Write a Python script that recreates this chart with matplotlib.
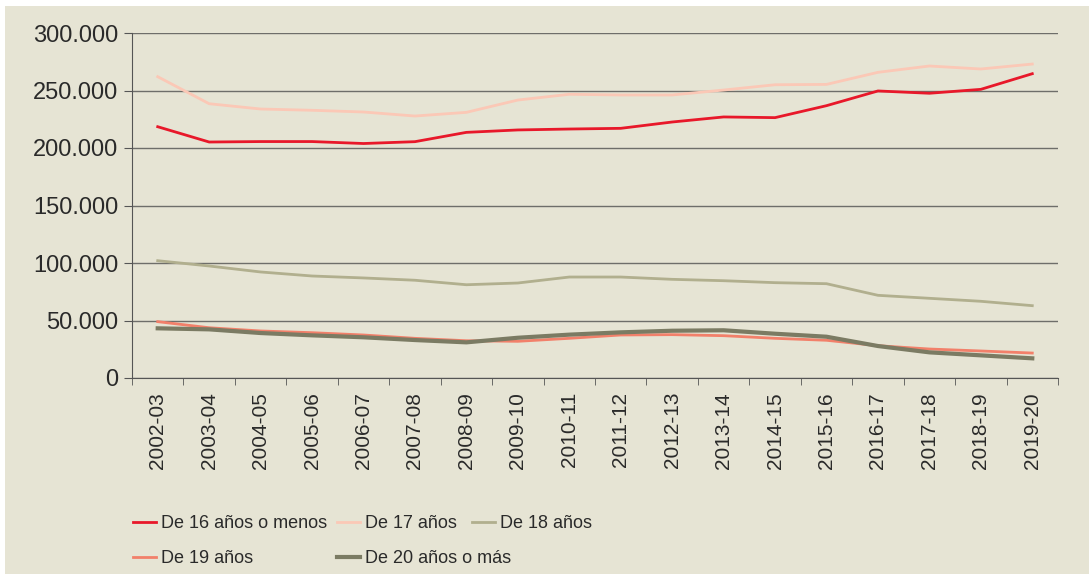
import matplotlib
matplotlib.use('Agg')
import matplotlib.pyplot as plt
from matplotlib.patches import Rectangle
from matplotlib.ticker import FuncFormatter, FixedLocator

# cursos
cursos = ["2002-03", "2003-04", "2004-05", "2005-06", "2006-07", "2007-08",
          "2008-09", "2009-10", "2010-11", "2011-12", "2012-13", "2013-14",
          "2014-15", "2015-16", "2016-17", "2017-18", "2018-19", "2019-20"]

# valores por edad
edad_16 = [218500, 205200, 205600, 205600, 203900, 205500, 213600, 215700, 216500,
           217100, 222600, 227000, 226400, 236800, 249600, 247600, 251000, 264600]
edad_17 = [262000, 238500, 233900, 232800, 231300, 227800, 231000, 241700, 246700,
           246100, 246100, 250400, 255000, 255300, 265800, 271300, 268700, 273000]
edad_18 = [102000, 97400, 92200, 88700, 87000, 85000, 81100, 82600, 87800,
           87800, 85800, 84600, 82900, 82000, 71900, 69300, 66700, 62900]
edad_19 = [49000, 43700, 40900, 39400, 37400, 34500, 32400, 31900, 34500,
           37400, 37700, 36800, 34500, 32800, 28100, 25200, 23500, 21700]
edad_20 = [43200, 42300, 39100, 37100, 35400, 33000, 31000, 35000, 37700,
           39700, 41100, 41500, 38500, 35900, 27800, 22300, 19700, 17100]

etiquetas = ["De 16 años o menos", "De 17 años", "De 18 años",
             "De 19 años", "De 20 años o más"]

BEIGE = '#e6e4d4'

fig = plt.figure(figsize=(10.89, 5.74), dpi=100)
fig.patch.set_facecolor('white')
# fondo beige con borde blanco arriba e izquierda
fig.patches.append(Rectangle((5 / 1089, 0), 1, 1 - 6 / 574, transform=fig.transFigure,
                             facecolor=BEIGE, edgecolor='none', zorder=-10))

ax = fig.add_axes([132 / 1089, 1 - 378 / 574, 926 / 1089, 345 / 574])
ax.set_facecolor(BEIGE)

x = list(range(len(cursos)))
l16, = ax.plot(x, edad_16, color='#e8182a', lw=2.0, label=etiquetas[0])
l17, = ax.plot(x, edad_17, color='#fbc8b6', lw=2.0, label=etiquetas[1])
l18, = ax.plot(x, edad_18, color='#b1af8e', lw=2.0, label=etiquetas[2])
l19, = ax.plot(x, edad_19, color='#f2806a', lw=2.0, label=etiquetas[3])
l20, = ax.plot(x, edad_20, color='#7b7b63', lw=3.0, label=etiquetas[4])

ax.set_xlim(-0.5, len(cursos) - 0.5)
ax.set_ylim(0, 300000)
ax.set_yticks(range(0, 300001, 50000))
ax.yaxis.set_major_formatter(FuncFormatter(lambda v, p: f"{int(v):,}".replace(",", ".")))
ax.grid(axis='y', color='#6e6e6a', lw=1.0)
ax.set_axisbelow(True)

ax.set_xticks(x)
ax.set_xticklabels(cursos, rotation=90, fontsize=15, color='#2a2a2a',
                   family='Liberation Sans')
ax.xaxis.set_minor_locator(FixedLocator([i - 0.5 for i in range(len(cursos) + 1)]))
ax.tick_params(axis='x', which='major', length=0, pad=10)
ax.tick_params(axis='x', which='minor', length=5, color='#555555', direction='out')
ax.tick_params(axis='y', length=6, color='#555555', pad=4)
for lbl in ax.get_yticklabels():
    lbl.set_fontsize(17)
    lbl.set_color('#2a2a2a')
    lbl.set_family('Liberation Sans')

for s in ['top', 'right']:
    ax.spines[s].set_visible(False)
ax.spines['left'].set_color('#555555')
ax.spines['bottom'].set_color('#555555')

# leyenda: una por columna
columnas = [([l16, l19], [etiquetas[0], etiquetas[3]], 133),
            ([l17, l20], [etiquetas[1], etiquetas[4]], 337),
            ([l18], [etiquetas[2]], 472)]
for handles, labels, xpix in columnas:
    leg = fig.legend(handles, labels, loc='upper left',
                     bbox_to_anchor=(xpix / 1089, 1 - 515 / 574),
                     frameon=False, handlelength=1.25, handletextpad=0.3,
                     labelspacing=1.0, borderpad=0, borderaxespad=0,
                     prop={'family': 'Liberation Sans', 'size': 13})
    for t in leg.get_texts():
        t.set_color('#2a2a2a')

fig.savefig('out.png', dpi=100, facecolor=fig.get_facecolor())
